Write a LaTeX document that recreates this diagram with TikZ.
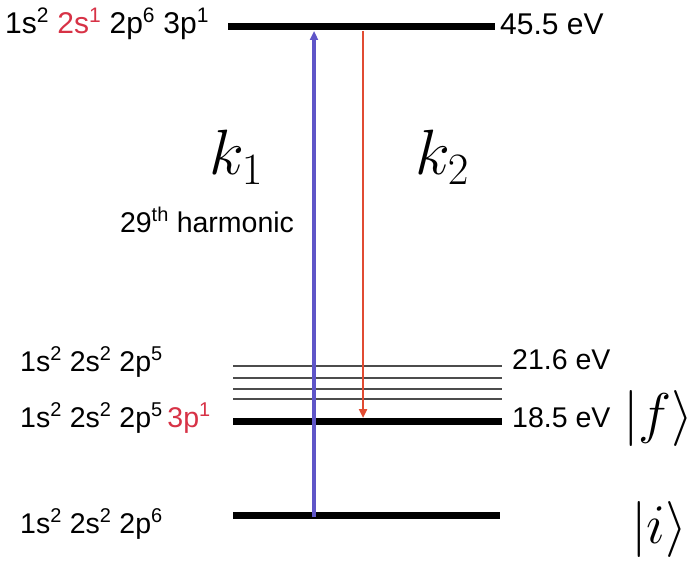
\RequirePackage{fix-cm}
\documentclass[tikz,border=0pt]{standalone}
\usepackage{fontspec}
\setmainfont{Liberation Sans}
\usetikzlibrary{arrows.meta, positioning}
\usepackage{xcolor}
\definecolor{pumpblue}{RGB}{95,85,200}
\definecolor{dumpred}{RGB}{225,75,50}
\definecolor{confred}{RGB}{215,50,70}

\begin{document}
\begin{tikzpicture}[x=1pt, y=-1pt,
  mainlevel/.style={line width=7pt},
  sublevel/.style={line width=1.5pt, black!70},
  conflabel/.style={font=\fontsize{28.5}{28.5}\selectfont, anchor=west, inner sep=0pt},
  evlabel/.style={font=\fontsize{28.5}{28.5}\selectfont, anchor=west, inner sep=0pt},
  wavevec/.style={font=\fontsize{64}{64}\selectfont, inner sep=0pt},
  ketlabel/.style={font=\fontsize{56}{56}\selectfont, inner sep=0pt},
  arrow/.style={-{Triangle[length=9pt, width=8pt]}},
]
\useasboundingbox (0,0) rectangle (693,567);

% Level end points
\coordinate (topL) at (228,27);
\coordinate (topR) at (495,27);
\coordinate (finL) at (233,421);
\coordinate (finR) at (502,421);
\coordinate (gndL) at (233,515);
\coordinate (gndR) at (500,515);

% Levels
\draw[mainlevel] (topL) -- (topR);
\draw[mainlevel] (finL) -- (finR);
\draw[mainlevel] (gndL) -- (gndR);
\foreach \yy in {366,378,389,399}{
  \draw[sublevel] (233,\yy) -- (502,\yy);
}

% Configurations
\node[conflabel, font=\fontsize{30}{30}\selectfont] (cfgtop) at (5,24) {1s\textsuperscript{2} \textcolor{confred}{2s\textsuperscript{1}} 2p\textsuperscript{6} 3p\textsuperscript{1}};
\node[conflabel] (cfgion) at (20,362) {1s\textsuperscript{2} 2s\textsuperscript{2} 2p\textsuperscript{5}};
\node[conflabel] (cfgfin) at (20,418) {1s\textsuperscript{2} 2s\textsuperscript{2} 2p\textsuperscript{5}\,\textcolor{confred}{3p\textsuperscript{1}}};
\node[conflabel] (cfggnd) at (20,524) {1s\textsuperscript{2} 2s\textsuperscript{2} 2p\textsuperscript{6}};

% Energies
\node[evlabel, font=\fontsize{30}{30}\selectfont] (evtop) at (500,24) {45.5 eV};
\node[evlabel] (evion) at (512,360) {21.6 eV};
\node[evlabel] (evfin) at (512,418) {18.5 eV};

% States
\node[ketlabel, anchor=west] (ketf) at (623,418) {$\bigl|f\bigr\rangle$};
\node[ketlabel, anchor=west] (keti) at (631,529) {$\bigl|i\bigr\rangle$};

% Pump and dump
\coordinate (pumpS) at (314,517);
\coordinate (pumpE) at (314,31);
\coordinate (dumpS) at (363,31);
\coordinate (dumpE) at (363,418);
\draw[arrow, pumpblue, line width=3.5pt] (pumpS) -- (pumpE);
\draw[arrow, dumpred, line width=2.8pt] (dumpS) -- (dumpE);

\node[wavevec] (kone) at (236,157) {$k_1$};
\node[wavevec] (ktwo) at (442,157) {$k_2$};
\node[conflabel, anchor=center] (harm) at (207,220) {29\textsuperscript{th} harmonic};
\end{tikzpicture}
\end{document}
